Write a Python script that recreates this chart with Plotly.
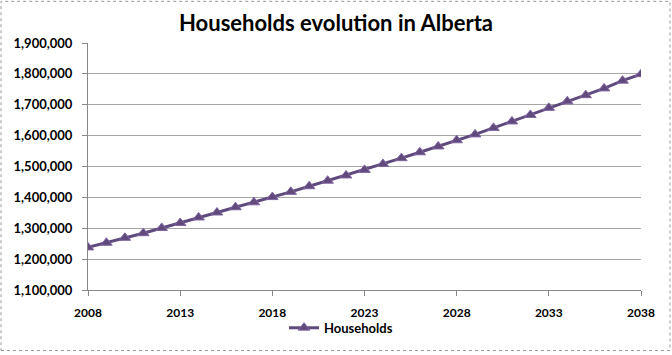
import plotly.graph_objects as go

years = list(range(2008, 2039))
households = [1238000, 1253000, 1269000, 1284000, 1301000, 1317000, 1335000, 1351000,
              1368000, 1384000, 1401000, 1418000, 1436000, 1454000, 1471000, 1489000,
              1508000, 1527000, 1546000, 1565000, 1585000, 1604000, 1625000, 1646000,
              1667000, 1690000, 1711000, 1731000, 1753000, 1778000, 1799000]
x_ticks = [2008, 2013, 2018, 2023, 2028, 2033, 2038]
y_ticks = list(range(1100000, 1900001, 100000))

W, H = 672, 355
ml, mr, mt, mb = 88, 31, 43, 63
pw, ph = W - ml - mr, H - mt - mb

def px(xp):
    return (xp - ml) / pw

def py(yp):
    return (H - mb - yp) / ph

fig = go.Figure()
fig.add_trace(go.Scatter(
    x=years, y=households, mode="lines+markers", name="<b>Households</b>",
    line=dict(color="#5E4A7C", width=3),
    marker=dict(symbol="triangle-up", size=10, color="#604A7B",
                line=dict(color="#8064A2", width=1)),
))

font_fam = "Lato, 'Liberation Sans', Arial, sans-serif"
fig.update_layout(
    width=W, height=H,
    margin=dict(l=ml, r=mr, t=mt, b=mb),
    paper_bgcolor="white", plot_bgcolor="white",
    title=dict(text="<b>Households evolution in Alberta</b>", x=0.5, xanchor="center",
               y=1 - 23 / H, yanchor="middle",
               font=dict(family=font_fam, size=22, color="black")),
    xaxis=dict(range=[2008, 2038], tickvals=x_ticks, ticktext=[f"<b>{v}</b>" for v in x_ticks],
               showgrid=False, zeroline=False, showline=True, linecolor="#888888",
               linewidth=1, ticks="outside", ticklen=5, tickcolor="#888888",
               tickfont=dict(family=font_fam, size=12, color="black"), ticklabelstandoff=7),
    yaxis=dict(range=[1100000, 1900000], tickvals=y_ticks,
               ticktext=[f"<b>{v:,}</b>" for v in y_ticks],
               showgrid=True, gridcolor="#A6A6A6", gridwidth=1, zeroline=False,
               showline=True, linecolor="#888888", linewidth=1,
               ticks="outside", ticklen=5, tickcolor="#888888",
               tickfont=dict(family=font_fam, size=13, color="black"), ticklabelstandoff=7),
    showlegend=True,
    legend=dict(orientation="h", x=px(284), xanchor="left", y=py(330), yanchor="middle",
                font=dict(family=font_fam, size=13, color="black"),
                bgcolor="rgba(0,0,0,0)", itemwidth=30),
    shapes=[dict(type="rect", xref="paper", yref="paper",
                 x0=px(1), x1=px(W - 2), y0=py(H - 2), y1=py(1),
                 line=dict(color="#9A9A9A", width=1, dash="dot"))],
)

fig.write_html("out.html", config={"displayModeBar": False},
               post_script="document.body.style.margin='0';document.body.style.padding='0';")
